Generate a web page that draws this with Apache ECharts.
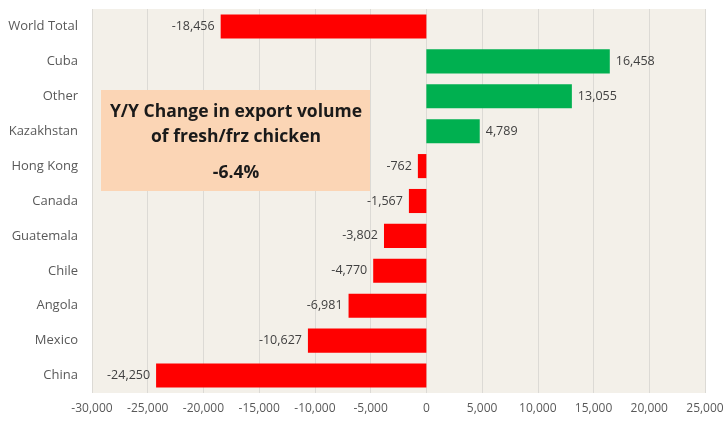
<!DOCTYPE html>
<html>
<head>
<meta charset="utf-8">
<script src="https://cdn.jsdelivr.net/npm/echarts@6/dist/echarts.min.js"></script>
<style>
  html, body { margin: 0; padding: 0; background: #fff; }
  #chart { width: 727px; height: 424px; }
</style>
</head>
<body>
<div id="chart"></div>
<script>
var categories = ['World Total', 'Cuba', 'Other', 'Kazakhstan', 'Hong Kong', 'Canada',
    'Guatemala', 'Chile', 'Angola', 'Mexico', 'China'];
var changes = [-18456, 16458, 13055, 4789, -762, -1567, -3802, -4770, -6981, -10627, -24250];
var boxTitle = ['Y/Y Change in export volume', 'of fresh/frz chicken'];
var boxValue = '-6.4%';

var fontFam = '"Open Sans", "Noto Sans", sans-serif';

function fmt(v) {
    return Number(v).toLocaleString('en-US');
}

var chart = echarts.init(document.getElementById('chart'));

/* Colour and label side by sign. */
var barData = changes.map(function (v) {
    return {
        value: v,
        itemStyle: { color: v < 0 ? '#FF0000' : '#00B050' },
        label: { position: v < 0 ? 'left' : 'right' }
    };
});

var option = {
    animation: false,
    grid: {
        top: 9,
        bottom: 31,
        left: 92,
        right: 22,
        show: true,
        backgroundColor: '#F3F0E9',
        borderWidth: 0
    },
    xAxis: {
        type: 'value',
        min: -30000,
        max: 25000,
        interval: 5000,
        axisLine: { show: false },
        axisTick: { show: false },
        splitLine: { lineStyle: { color: '#DCDAD5', width: 1 } },
        axisLabel: {
            color: '#595959',
            fontFamily: fontFam,
            fontSize: 12,
            margin: 10,
            formatter: function (v) { return fmt(v); }
        }
    },
    yAxis: {
        type: 'category',
        inverse: true,
        data: categories,
        axisLine: { show: false },
        axisTick: { show: false },
        axisLabel: {
            color: '#595959',
            fontFamily: fontFam,
            fontSize: 13,
            margin: 14
        }
    },
    series: [
        {
            type: 'bar',
            data: barData,
            barCategoryGap: '31%',
            label: {
                show: true,
                color: '#404040',
                fontFamily: fontFam,
                fontSize: 12.5,
                distance: 6,
                formatter: function (p) { return fmt(p.value); }
            }
        }
    ],
    graphic: [
        {
            type: 'group',
            left: 101,
            top: 90,
            z: 100,
            children: [
                {
                    type: 'rect',
                    z: 100,
                    shape: { x: 0, y: 0, width: 269, height: 101 },
                    style: { fill: '#FBD5B5' }
                },
                {
                    type: 'text',
                    z: 101,
                    x: 135,
                    y: 10,
                    style: {
                        text: boxTitle.join('\n'),
                        align: 'center',
                        fill: '#1a1a1a',
                        font: 'bold 17.5px ' + fontFam,
                        lineHeight: 25
                    }
                },
                {
                    type: 'text',
                    z: 101,
                    x: 135,
                    y: 74,
                    style: {
                        text: boxValue,
                        align: 'center',
                        fill: '#1a1a1a',
                        font: 'bold 17.5px ' + fontFam
                    }
                }
            ]
        }
    ]
};
chart.setOption(option);

window.addEventListener('resize', function () {
    chart.resize();
});
</script>
</body>
</html>
